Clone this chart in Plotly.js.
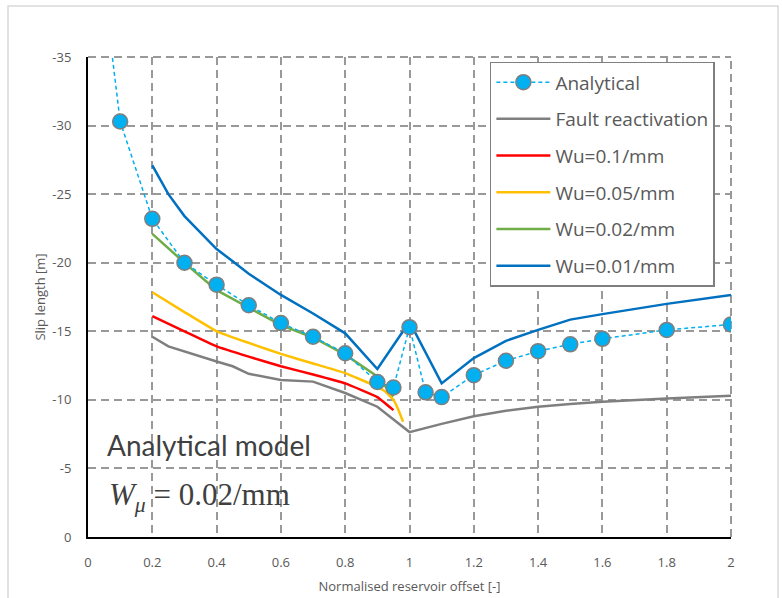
<!DOCTYPE html>
<html>
<head>
<meta charset="utf-8">
<script src="https://cdn.plot.ly/plotly-3.0.1.min.js"></script>
<style>html,body{margin:0;padding:0;background:#fff;}#chart{width:782px;height:598px;}</style>
</head>
<body>
<div id="chart"></div>
<script>
// Analytical model points
const analyticalX = [0.05, 0.1, 0.2, 0.3, 0.4, 0.5, 0.6, 0.7, 0.8, 0.9, 0.95, 1.0, 1.05, 1.1, 1.2, 1.3, 1.4, 1.5, 1.6, 1.8, 2.0];
const analyticalY = [-40, -30.3, -23.2, -20.0, -18.4, -16.9, -15.6, -14.6, -13.4, -11.3, -10.9, -15.3, -10.55, -10.2, -11.8, -12.85, -13.55, -14.05, -14.45, -15.1, -15.5];

// Fault reactivation
const faultX = [0.2, 0.25, 0.4, 0.45, 0.5, 0.6, 0.7, 0.8, 0.9, 1.0, 1.1, 1.2, 1.3, 1.4, 1.5, 1.6, 1.8, 2.0];
const faultY = [-14.6, -13.9, -12.8, -12.45, -11.9, -11.45, -11.33, -10.5, -9.5, -7.65, -8.25, -8.8, -9.2, -9.5, -9.7, -9.87, -10.1, -10.3];

// Wu = 0.1/mm
const wu01X = [0.2, 0.3, 0.4, 0.5, 0.6, 0.7, 0.8, 0.9, 0.95];
const wu01Y = [-16.1, -15.0, -13.9, -13.15, -12.45, -11.85, -11.2, -10.2, -9.25];

// Wu = 0.05/mm
const wu005X = [0.2, 0.3, 0.4, 0.5, 0.6, 0.7, 0.8, 0.9, 0.925, 0.95, 0.965, 0.98];
const wu005Y = [-17.85, -16.4, -15.0, -14.15, -13.35, -12.65, -11.95, -10.95, -10.6, -10.0, -9.3, -8.4];

// Wu = 0.02/mm
const wu002X = [0.2, 0.3, 0.4, 0.5, 0.6, 0.7, 0.8, 0.9, 0.95];
const wu002Y = [-22.1, -20.0, -18.0, -16.75, -15.45, -14.55, -13.3, -11.7, -10.25];

// Wu = 0.01/mm
const wu001X = [0.2, 0.25, 0.3, 0.4, 0.45, 0.5, 0.6, 0.7, 0.8, 0.9, 1.0, 1.1, 1.2, 1.3, 1.4, 1.5, 1.6, 1.8, 2.0];
const wu001Y = [-27.1, -25.0, -23.4, -21.0, -20.1, -19.2, -17.65, -16.3, -14.85, -12.25, -15.7, -11.2, -13.05, -14.3, -15.1, -15.85, -16.25, -17.0, -17.65];

// Axis ticks
const yTickVals = [0, -5, -10, -15, -20, -25, -30, -35];
const yTickText = ['0', '-5', '-10', '-15', '-20', '-25', '-30', '-35'];
const xTickVals = [0, 0.2, 0.4, 0.6, 0.8, 1, 1.2, 1.4, 1.6, 1.8, 2];
const xTickText = ['0', '0.2', '0.4', '0.6', '0.8', '1', '1.2', '1.4', '1.6', '1.8', '2'];

const lineW = 2.5;
const traces = [
  {x: analyticalX, y: analyticalY, name: 'Analytical', mode: 'lines+markers', legendgroup: 'a', legendrank: 1,
   line: {color: '#00b0f0', width: 1.5, dash: '4px,3px'},
   marker: {size: 15, color: '#00b0f0', line: {color: '#7f7f7f', width: 1.5}}},
  {x: faultX, y: faultY, name: 'Fault reactivation', mode: 'lines', legendgroup: 'b', legendrank: 2,
   line: {color: '#7f7f7f', width: lineW}},
  {x: wu01X, y: wu01Y, name: 'Wu=0.1/mm', mode: 'lines', legendgroup: 'c', legendrank: 3,
   line: {color: '#ff0000', width: lineW, shape: 'spline', smoothing: 0.3}},
  {x: wu005X, y: wu005Y, name: 'Wu=0.05/mm', mode: 'lines', legendgroup: 'd', legendrank: 4,
   line: {color: '#ffc000', width: lineW, shape: 'spline', smoothing: 0.3}},
  {x: wu002X, y: wu002Y, name: 'Wu=0.02/mm', mode: 'lines', legendgroup: 'e', legendrank: 5,
   line: {color: '#70ad47', width: lineW}},
  {x: wu001X, y: wu001Y, name: 'Wu=0.01/mm', mode: 'lines', legendgroup: 'f', legendrank: 6,
   line: {color: '#0070c0', width: lineW}}
];
// draw analytical on top
const ordered = [traces[1], traces[2], traces[3], traces[4], traces[5], traces[0]];

const gridColor = '#999999';
const gridDash = '8px,5px';
const tickFont = {family: 'Open Sans, sans-serif', size: 13, color: '#595959'};
const layout = {
  width: 782, height: 598,
  margin: {l: 88, r: 51, t: 57, b: 61},
  paper_bgcolor: '#ffffff', plot_bgcolor: '#ffffff',
  showlegend: true,
  legend: {
    x: 0.625, y: 0.99, xanchor: 'left', yanchor: 'top',
    bgcolor: '#ffffff', bordercolor: '#7f7f7f', borderwidth: 1.5,
    font: {family: 'Open Sans, sans-serif', size: 19, color: '#595959'},
    traceorder: 'grouped', tracegroupgap: 9, itemwidth: 54
  },
  xaxis: {
    range: [0, 2], tickvals: xTickVals, ticktext: xTickText,
    showline: true, linecolor: '#000000', linewidth: 2,
    showgrid: true, gridcolor: gridColor, gridwidth: 2, griddash: gridDash,
    zeroline: false, ticks: 'outside', ticklen: 12, tickcolor: 'rgba(0,0,0,0)',
    tickfont: tickFont,
    title: {text: 'Normalised reservoir offset [-]', font: {family: 'Open Sans, sans-serif', size: 13, color: '#595959'}, standoff: 12}
  },
  yaxis: {
    range: [0, -35], tickvals: yTickVals, ticktext: yTickText,
    showline: true, linecolor: '#000000', linewidth: 2,
    showgrid: true, gridcolor: gridColor, gridwidth: 2, griddash: gridDash,
    zeroline: false, ticks: 'outside', ticklen: 12, tickcolor: 'rgba(0,0,0,0)',
    tickfont: tickFont,
    title: {text: 'Slip length [m]', font: {family: 'Open Sans, sans-serif', size: 13, color: '#595959'}, standoff: 4}
  },
  annotations: [
    {x: 0.052, y: -6.7, xref: 'x', yref: 'y', xanchor: 'left', yanchor: 'middle', showarrow: false,
     text: 'Analytical model', font: {family: 'Lato, sans-serif', size: 28, color: '#404040'}},
    {x: 0.058, y: -2.9, xref: 'x', yref: 'y', xanchor: 'left', yanchor: 'middle', showarrow: false,
     text: '<i>W</i><sub><i>μ</i></sub> = 0.02/mm', font: {family: 'Liberation Serif, serif', size: 31, color: '#404040'}}
  ],
  shapes: [
    {type: 'rect', xref: 'paper', yref: 'paper', x0: -0.1244, x1: 1.0731, y0: -0.2, y1: 1.106,
     line: {color: '#d9d9d9', width: 1.5}, fillcolor: 'rgba(0,0,0,0)', layer: 'below'},
    {type: 'line', xref: 'paper', yref: 'paper', x0: 0, x1: 1, y0: 1, y1: 1,
     line: {color: gridColor, width: 2, dash: gridDash}, layer: 'below'},
    {type: 'line', xref: 'paper', yref: 'paper', x0: 1, x1: 1, y0: 0, y1: 1,
     line: {color: gridColor, width: 2, dash: gridDash}, layer: 'below'}
  ]
};
Plotly.newPlot('chart', ordered, layout, {displayModeBar: false, staticPlot: true});
</script>
</body>
</html>
